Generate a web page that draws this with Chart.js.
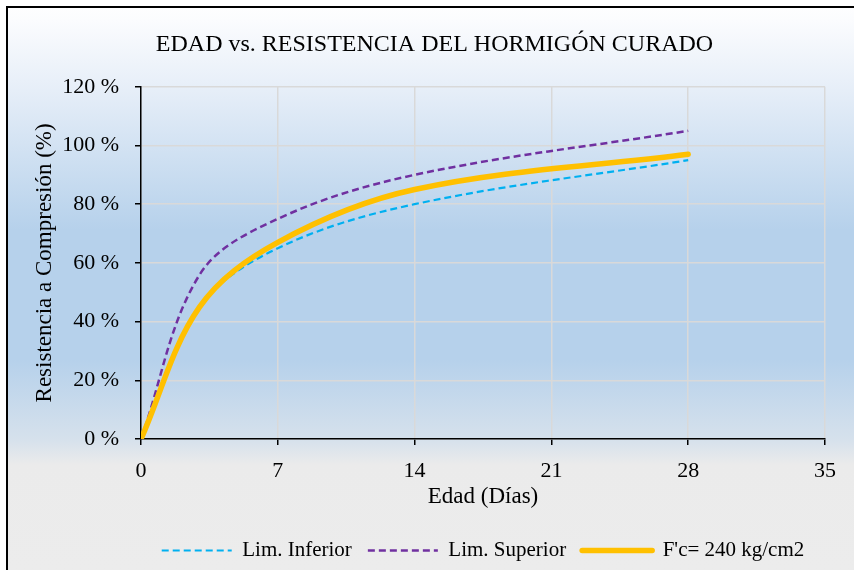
<!DOCTYPE html>
<html>
<head>
<meta charset="utf-8">
<script src="https://cdn.jsdelivr.net/npm/chart.js@4/dist/chart.umd.min.js"></script>
<style>
  html, body { margin: 0; padding: 0; background: #fff; }
  #wrap { width: 854px; height: 570px; }
</style>
</head>
<body>
<div id="wrap"><canvas id="myChart" width="854" height="570"></canvas></div>
<script>
const dias = [0, 3, 7, 14, 28];
const limInferior = [0, 45, 65, 80, 95];
const limSuperior = [0, 56, 75, 90, 105];
const fc240 = [0, 45, 67, 85, 97];
const xTicks = [0, 7, 14, 21, 28, 35];
const yTicks = [0, 20, 40, 60, 80, 100, 120];

const toPoints = (vals) => vals.map((v, i) => ({ x: dias[i], y: v }));

const serif = 'Liberation Serif, Times New Roman, serif';

// fondo degradado y marco
const fondo = {
  id: 'fondo',
  beforeDraw(chart) {
    const c = chart.ctx;
    const h = chart.height;
    c.save();
    c.fillStyle = '#ffffff';
    c.fillRect(0, 0, chart.width, h);
    const g = c.createLinearGradient(0, 0, 0, h);
    g.addColorStop(0, '#ffffff');
    g.addColorStop(20 / h, '#fbfcfe');
    g.addColorStop(90 / h, '#e6eef8');
    g.addColorStop(230 / h, '#b6d1eb');
    g.addColorStop(360 / h, '#b6d1eb');
    g.addColorStop(440 / h, '#d6e1ec');
    g.addColorStop(465 / h, '#ebebeb');
    g.addColorStop(1, '#ececec');
    c.fillStyle = g;
    c.fillRect(7, 7, chart.width, h);
    c.restore();
  },
  afterDraw(chart) {
    const c = chart.ctx;
    c.save();
    c.strokeStyle = '#000';
    c.lineWidth = 2;
    c.strokeRect(7, 7, chart.width + 10, chart.height + 10);
    c.restore();
  }
};

const ctx = document.getElementById('myChart').getContext('2d');

const chart = new Chart(ctx, {
  type: 'line',
  data: {
    datasets: [{
      label: 'Lim. Inferior',
      data: toPoints(limInferior),
      borderColor: '#00b0f0',
      borderWidth: 2.2,
      borderDash: [7, 4],
      tension: 0.35,
      pointRadius: 0,
      fill: false,
      order: 2
    }, {
      label: 'Lim. Superior',
      data: toPoints(limSuperior),
      borderColor: '#7030a0',
      borderWidth: 2.5,
      borderDash: [7, 4],
      tension: 0.35,
      pointRadius: 0,
      fill: false,
      order: 1
    }, {
      label: "F'c= 240 kg/cm2",
      data: toPoints(fc240),
      borderColor: '#ffc000',
      borderWidth: 5.5,
      borderCapStyle: 'round',
      tension: 0.35,
      pointRadius: 0,
      fill: false,
      order: 0
    }]
  },
  options: {
    responsive: false,
    animation: false,
    layout: { padding: { left: 26, right: 11, top: 0, bottom: -1 } },
    plugins: {
      title: {
        display: true,
        text: 'EDAD vs. RESISTENCIA DEL HORMIGÓN CURADO',
        color: '#000',
        font: { family: serif, size: 24, weight: 'normal' },
        padding: { top: 30, bottom: 28 }
      },
      legend: {
        position: 'bottom',
        fullSize: false,
        labels: {
          color: '#000',
          font: { family: serif, size: 21 },
          usePointStyle: true,
          pointStyle: 'line',
          pointStyleWidth: 70,
          padding: 16,
          sort: (a, b) => a.datasetIndex - b.datasetIndex,
          // la muestra de la leyenda copia el trazo de cada serie
          generateLabels: (chart) => Chart.defaults.plugins.legend.labels.generateLabels(chart).map((item) => {
            const ds = chart.data.datasets[item.datasetIndex];
            item.strokeStyle = ds.borderColor;
            item.lineWidth = ds.borderWidth;
            item.lineDash = ds.borderDash || [];
            item.lineCap = ds.borderCapStyle || 'butt';
            return item;
          })
        }
      },
      tooltip: { enabled: false }
    },
    scales: {
      x: {
        type: 'linear',
        min: 0,
        max: 35,
        afterFit: (s) => { s.height = 85; },
        afterBuildTicks: (s) => { s.ticks = xTicks.map(v => ({ value: v })); },
        ticks: {
          color: '#000',
          font: { family: serif, size: 22 },
          padding: 13
        },
        grid: { color: '#d9d9d9', lineWidth: 1.5, tickColor: '#000', tickLength: 6 },
        border: { color: '#000', width: 1.5 },
        title: {
          display: true,
          text: 'Edad (Días)',
          color: '#000',
          font: { family: serif, size: 23 },
          padding: { top: 0, bottom: 13 }
        }
      },
      y: {
        min: 0,
        max: 120,
        afterFit: (s) => { s.width = 115; },
        afterBuildTicks: (s) => { s.ticks = yTicks.map(v => ({ value: v })); },
        ticks: {
          color: '#000',
          font: { family: serif, size: 22 },
          padding: 16,
          callback: (v) => v + ' %'
        },
        grid: { color: '#d9d9d9', lineWidth: 1.5, tickColor: '#000', tickLength: 6 },
        border: { color: '#000', width: 1.5 },
        title: {
          display: true,
          text: 'Resistencia a Compresión (%)',
          color: '#000',
          font: { family: serif, size: 23 },
          padding: { top: 5, bottom: 0 }
        }
      },
      // eje vacío a la derecha, solo reserva espacio
      y2: {
        position: 'right',
        min: 0,
        max: 120,
        afterFit: (s) => { s.width = 18; },
        ticks: { display: false },
        grid: { display: false },
        border: { display: false }
      }
    }
  },
  plugins: [fondo]
});
</script>
</body>
</html>
